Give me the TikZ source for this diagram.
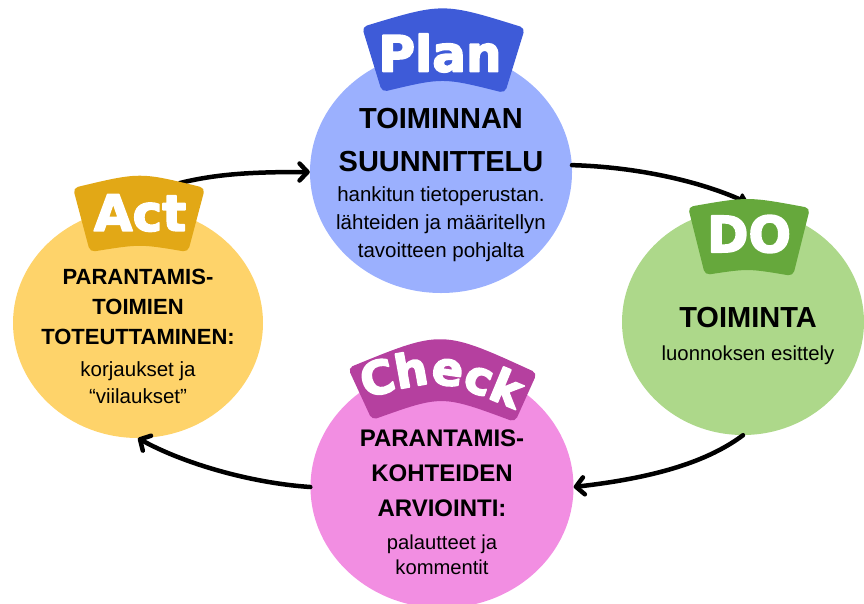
\documentclass[tikz,border=0pt]{standalone}
\usepackage{fontspec}
\setmainfont{Liberation Sans}
\newfontfamily\tabfont{DejaVu Sans}
\usetikzlibrary{shapes.geometric,arrows.meta,decorations.text}

\definecolor{planfill}{HTML}{9BB0FE}
\definecolor{plantab}{HTML}{3E5BD8}
\definecolor{dofill}{HTML}{ADD88A}
\definecolor{dotab}{HTML}{66A83C}
\definecolor{checkfill}{HTML}{F28EE2}
\definecolor{checktab}{HTML}{B5409F}
\definecolor{actfill}{HTML}{FED36A}
\definecolor{acttab}{HTML}{E2A816}

% fill and stroke the glyphs, so the tab labels come out heavier
\newcommand{\heavytext}{\special{pdf:literal direct 2 Tr 1.6 w 1 1 1 RG 1 j}}

\tikzset{
  phase/.style={ellipse, draw=none, inner sep=0pt},
  titletext/.style 2 args={align=center, inner sep=0pt, font=\bfseries\fontsize{#1}{#2}\selectfont},
  bodytext/.style 2 args={align=center, inner sep=0pt, font=\fontsize{#1}{#2}\selectfont},
  tablabel/.style={text=white, inner sep=0pt, font=\tabfont\bfseries\fontsize{50}{50}\selectfont},
  cycle/.style={line width=4.5pt, line cap=round, -{Straight Barb[length=8pt,width=17pt,round]}}
}

\begin{document}
\begin{tikzpicture}[x=1pt, y=-1pt]
  \useasboundingbox (0,0) rectangle (864,603);

  % the four circles
  \node[phase, fill=planfill, minimum width=262pt, minimum height=242pt] (plan) at (441,172) {};
  \node[phase, fill=dofill, minimum width=242pt, minimum height=226pt] (do) at (743,322) {};
  \node[phase, fill=checkfill, minimum width=263pt, minimum height=242pt] (check) at (442,487) {};
  \node[phase, fill=actfill, minimum width=250pt, minimum height=230pt] (act) at (138,323) {};

  \coordinate (acttop) at (180,183);
  \coordinate (dotop) at (748,203);

  % arrows round the cycle
  \draw[cycle] (acttop) .. controls +(40,-10) and +(-50,0) .. (plan.west);
  \draw[line width=4.5pt, line cap=round, -{Triangle[length=11pt,width=15pt,round]}]
        (plan.3) .. controls +(70,2) and +(-45,-20) .. (dotop);
  \draw[cycle] (do.south) .. controls +(-40,30) and +(70,-8) .. (check.east);
  \draw[cycle] (check.west) .. controls +(-60,-4) and +(45,25) .. (act.south);

  % tabs
  \fill[plantab, rounded corners=5pt] (362,27) .. controls (443,2.5) .. (525,28)
        -- (505,93) .. controls (443,77.5) .. (382,92) -- cycle;
  \fill[dotab, rounded corners=5pt] (688,207) .. controls (748,196.5) .. (810,208)
        -- (793,276) .. controls (748,268.5) .. (705,275) -- cycle;
  \fill[checktab, rounded corners=5pt] (348,368) .. controls (442,329.5) .. (537,373)
        -- (515,422) .. controls (442,395) .. (372,420) -- cycle;
  \fill[acttab, rounded corners=5pt] (73,188) .. controls (140,172) .. (205,188)
        -- (188,252) .. controls (140,244) .. (90,252) -- cycle;

  \begin{scope}
    \pgfextra{\heavytext}
    \node[tablabel] (planlabel) at (440,53) {Plan};
    \node[tablabel] (dolabel) at (749,234) {DO};
    \node[tablabel] (actlabel) at (140,213) {Act};
    \path[decorate, decoration={text along path, text align=center,
          text={|\tabfont\bfseries\fontsize{46}{46}\selectfont\color{white}|Check}}]
          (366,398) .. controls (440,378) .. (514,409);
  \end{scope}

  % texts
  \node[titletext={29}{43}] (plantitle) at (441,140) {TOIMINNAN\\SUUNNITTELU};
  \node[bodytext={20.5}{28}] (planbody) at (441,224)
        {hankitun tietoperustan.\\lähteiden ja määritellyn\\tavoitteen pohjalta};

  \node[titletext={29}{43}] (dotitle) at (748,318) {TOIMINTA};
  \node[bodytext={20.3}{28}] (dobody) at (748,355) {luonnoksen esittely};

  \node[titletext={24}{35}] (checktitle) at (442,473) {PARANTAMIS-\\KOHTEIDEN\\ARVIOINTI:};
  \node[bodytext={20.2}{25}] (checkbody) at (442,555) {palautteet ja\\kommentit};

  \node[titletext={22}{30}] (acttitle) at (138,307) {PARANTAMIS-\\TOIMIEN\\TOTEUTTAMINEN:};
  \node[bodytext={20.5}{27}] (actbody) at (138,383) {korjaukset ja\\“viilaukset”};
\end{tikzpicture}
\end{document}
